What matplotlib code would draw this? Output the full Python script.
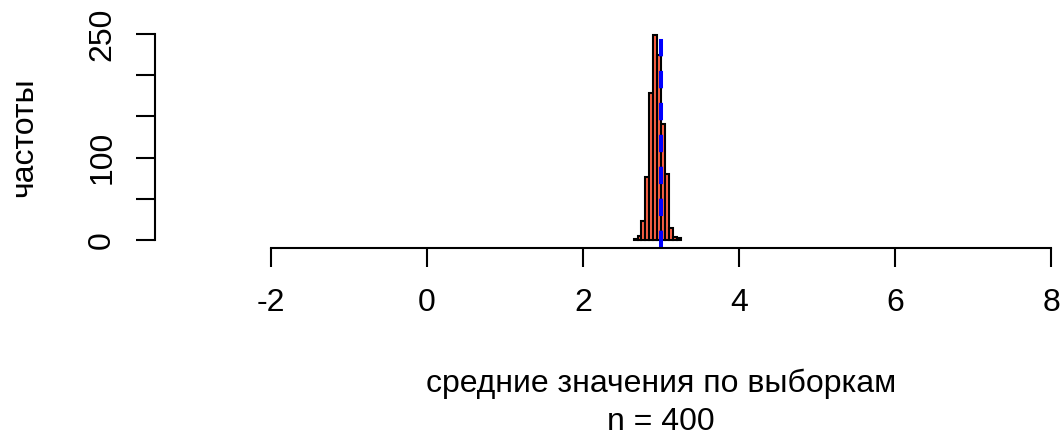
import numpy as np
import matplotlib
matplotlib.use("Agg")
import matplotlib.pyplot as plt

# histogram of sample means (n = 400), bins of width 0.05
bin_edges = [2.65, 2.70, 2.75, 2.80, 2.85, 2.90, 2.95, 3.00, 3.05, 3.10, 3.15, 3.20, 3.25]
counts = [1, 5, 23, 77, 179, 249, 224, 141, 80, 15, 4, 2]
true_mean = 3.0

x_ticks = [-2, 0, 2, 4, 6, 8]
y_ticks = [0, 50, 100, 150, 200, 250]
y_tick_labels = ["0", "", "100", "", "", "250"]

plt.rcParams["font.family"] = ["Liberation Sans", "DejaVu Sans"]
plt.rcParams["lines.scale_dashes"] = False

W, H = 1061, 436
fig = plt.figure(figsize=(W / 100, H / 100), dpi=100)

# R-style plot region (extends past the right edge, like the original crop)
left_px, right_px, top_px, bottom_px = 155, 1167, 25.8, 248.3
ax = fig.add_axes([left_px / W, (H - bottom_px) / H,
                   (right_px - left_px) / W, (bottom_px - top_px) / H])
ax.set_xlim(-3.48, 9.48)
ax.set_ylim(-10, 260)

widths = np.diff(bin_edges)
ax.bar(bin_edges[:-1], counts, width=widths, align="edge",
       color="tomato", edgecolor="black", linewidth=1.5)

ax.axvline(true_mean, color="blue", linewidth=2.9, linestyle=(0, (12.5, 10.5)))

for side in ["top", "right"]:
    ax.spines[side].set_visible(False)
ax.spines["left"].set_bounds(0, 250)
ax.spines["bottom"].set_bounds(-2, 8)
ax.spines["left"].set_linewidth(1.5)
ax.spines["bottom"].set_linewidth(1.5)

fs = 23
ax.set_xticks(x_ticks)
ax.set_xticklabels([str(t) for t in x_ticks])
ax.set_yticks(y_ticks)
ax.set_yticklabels(y_tick_labels, rotation=90, va="center")
ax.tick_params(axis="both", length=13.7, width=1.5, labelsize=fs, direction="out")
ax.tick_params(axis="x", pad=15)
ax.tick_params(axis="y", pad=13.5)

fig.text(24 / W, (H - 137) / H, "частоты", rotation=90,
         ha="center", va="center", fontsize=fs)
fig.text(661 / W, (H - 392) / H, "средние значения по выборкам",
         ha="center", va="baseline", fontsize=fs)
fig.text(661 / W, (H - 429.5) / H, "n = 400",
         ha="center", va="baseline", fontsize=fs)

fig.savefig("out.png", dpi=100)
